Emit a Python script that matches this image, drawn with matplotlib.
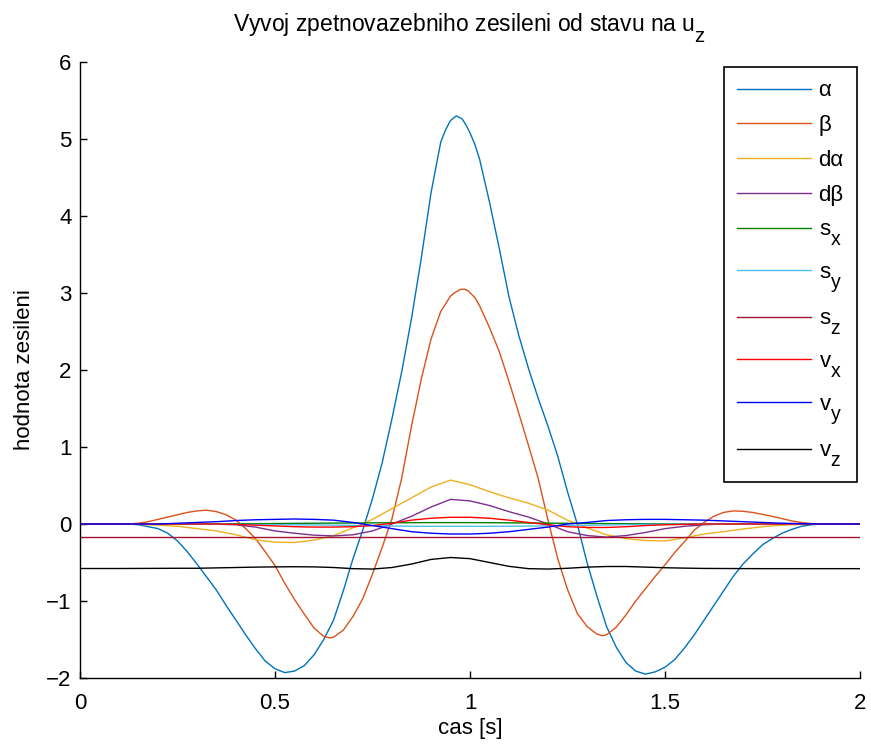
import numpy as np
import matplotlib
matplotlib.use("Agg")
import matplotlib.pyplot as plt

# MATLAB-like subscripts: larger and dropped lower than mathtext defaults
try:
    import matplotlib._mathtext as _mt
    _mt.SHRINK_FACTOR = 0.88
    _mt.FontConstantsBase.sub1 = 0.9
    _mt.FontConstantsBase.sub2 = 0.9
except Exception:
    pass

plt.rcParams['font.family'] = ['Liberation Sans', 'DejaVu Sans']
plt.rcParams['mathtext.fontset'] = 'custom'
plt.rcParams['mathtext.rm'] = 'Liberation Sans'
plt.rcParams['mathtext.it'] = 'Liberation Sans'

# ---- data ----
x_alpha = [0, 0.05, 0.1, 0.125, 0.15, 0.175, 0.2, 0.225, 0.25, 0.275, 0.3, 0.325, 0.35, 0.375,
           0.4, 0.425, 0.45, 0.475, 0.5, 0.525, 0.55, 0.575, 0.6, 0.625, 0.65, 0.675, 0.7,
           0.725, 0.75, 0.775, 0.8, 0.825, 0.85, 0.875, 0.9, 0.9125, 0.925, 0.9375, 0.95,
           0.965, 0.98, 0.99, 1.0, 1.0125, 1.025, 1.05, 1.075, 1.1, 1.125, 1.15, 1.175, 1.2,
           1.225, 1.25, 1.275, 1.3, 1.325, 1.35, 1.375, 1.4, 1.425, 1.45, 1.475, 1.5, 1.525,
           1.55, 1.575, 1.6, 1.625, 1.65, 1.675, 1.7, 1.725, 1.75, 1.775, 1.8, 1.825, 1.85,
           1.875, 1.9, 1.95, 2.0]
alpha = [0, 0, 0, 0, -0.01, -0.035, -0.06, -0.12, -0.22, -0.36, -0.52, -0.69, -0.86, -1.06,
         -1.25, -1.44, -1.62, -1.78, -1.88, -1.93, -1.91, -1.84, -1.70, -1.50, -1.25, -0.87, -0.45,
         -0.08, 0.33, 0.80, 1.37, 1.98, 2.67, 3.45, 4.30, 4.63, 4.96, 5.12, 5.24,
         5.30, 5.26, 5.18, 5.08, 4.93, 4.73, 4.18, 3.58, 2.95, 2.45, 2.02, 1.63, 1.27,
         0.88, 0.42, 0.0, -0.50, -0.93, -1.33, -1.60, -1.80, -1.91, -1.95, -1.92, -1.86, -1.76,
         -1.61, -1.44, -1.25, -1.06, -0.87, -0.68, -0.52, -0.39, -0.27, -0.19, -0.12, -0.07, -0.03,
         -0.01, 0, 0, 0]

x_beta = [0, 0.05, 0.1, 0.125, 0.15, 0.175, 0.2, 0.225, 0.25, 0.275, 0.3, 0.325, 0.35, 0.375,
          0.4, 0.425, 0.45, 0.475, 0.5, 0.525, 0.55, 0.575, 0.6, 0.625, 0.64, 0.65, 0.675,
          0.7, 0.725, 0.75, 0.775, 0.8, 0.825, 0.85, 0.875, 0.9, 0.925, 0.95, 0.9625, 0.975,
          0.985, 0.995, 1.0125, 1.025, 1.05, 1.075, 1.1, 1.125, 1.15, 1.175, 1.2, 1.225, 1.25,
          1.275, 1.3, 1.325, 1.34, 1.35, 1.375, 1.4, 1.425, 1.45, 1.475, 1.5, 1.525, 1.55,
          1.575, 1.6, 1.625, 1.65, 1.675, 1.7, 1.725, 1.75, 1.775, 1.8, 1.825, 1.85, 1.875,
          1.9, 1.95, 2.0]
beta = [0, 0, 0, 0, 0.01, 0.03, 0.06, 0.09, 0.12, 0.15, 0.17, 0.18, 0.16, 0.12,
        0.05, -0.06, -0.19, -0.36, -0.54, -0.77, -0.98, -1.17, -1.35, -1.46, -1.48, -1.47, -1.38,
        -1.20, -0.97, -0.65, -0.30, 0.07, 0.60, 1.27, 1.88, 2.40, 2.76, 2.96, 3.01, 3.045,
        3.05, 3.03, 2.94, 2.83, 2.55, 2.24, 1.85, 1.44, 1.02, 0.59, 0.05, -0.45, -0.85,
        -1.16, -1.33, -1.43, -1.45, -1.44, -1.34, -1.18, -1.00, -0.84, -0.68, -0.53, -0.37, -0.23,
        -0.08, 0.02, 0.10, 0.15, 0.17, 0.165, 0.15, 0.125, 0.10, 0.07, 0.04, 0.02, 0.005,
        0, 0, 0]

x_small = [0, 0.05, 0.1, 0.15, 0.2, 0.25, 0.3, 0.35, 0.4, 0.45, 0.5, 0.55, 0.6, 0.65, 0.7,
           0.75, 0.8, 0.85, 0.9, 0.95, 1.0, 1.05, 1.1, 1.15, 1.2, 1.25, 1.3, 1.35, 1.4, 1.45,
           1.5, 1.55, 1.6, 1.65, 1.7, 1.75, 1.8, 1.85, 1.9, 1.95, 2.0]
dalpha = [0, 0, 0, -0.005, -0.015, -0.03, -0.06, -0.09, -0.14, -0.205, -0.235, -0.24, -0.21, -0.15, -0.05,
          0.06, 0.20, 0.34, 0.48, 0.57, 0.51, 0.42, 0.34, 0.27, 0.18, 0.05, -0.05, -0.14, -0.19, -0.215,
          -0.22, -0.18, -0.13, -0.10, -0.065, -0.035, -0.015, -0.005, 0, 0, 0]
dbeta = [0, 0, 0, 0, 0, 0, 0, -0.003, -0.01, -0.04, -0.09, -0.12, -0.145, -0.155, -0.14,
         -0.09, 0.0, 0.10, 0.22, 0.32, 0.30, 0.24, 0.16, 0.09, 0.0, -0.10, -0.15, -0.17, -0.15, -0.11,
         -0.06, -0.03, -0.01, 0, 0, 0, 0, 0, 0, 0, 0]
s_x = [0, 0, 0, 0, 0, 0, 0.002, 0.003, 0.004, 0.005, 0.006, 0.008, 0.01, 0.012, 0.013,
       0.015, 0.016, 0.017, 0.018, 0.018, 0.018, 0.017, 0.015, 0.013, 0.011, 0.009, 0.007, 0.005, 0.004, 0.003,
       0.002, 0.001, 0, 0, 0, 0, 0, 0, 0, 0, 0]
s_y = [0, 0, 0, 0, 0, 0, 0, -0.002, -0.004, -0.006, -0.008, -0.01, -0.012, -0.015, -0.018,
       -0.022, -0.026, -0.029, -0.03, -0.03, -0.03, -0.03, -0.029, -0.027, -0.024, -0.02, -0.016, -0.012, -0.008, -0.005,
       -0.003, -0.002, -0.001, 0, 0, 0, 0, 0, 0, 0, 0]
s_z = [-0.165] * 41
v_x = [0, 0, 0, 0, 0, 0, 0, 0, -0.005, -0.015, -0.025, -0.035, -0.04, -0.04, -0.035,
       -0.02, 0.01, 0.05, 0.075, 0.087, 0.087, 0.075, 0.05, 0.02, -0.01, -0.035, -0.045, -0.045, -0.035, -0.02,
       -0.01, -0.005, 0, 0, 0, 0, 0, 0, 0, 0, 0]
v_y = [0, 0, 0, 0, 0, 0.01, 0.02, 0.03, 0.045, 0.055, 0.06, 0.065, 0.06, 0.05, 0.02,
       -0.02, -0.06, -0.10, -0.12, -0.13, -0.13, -0.12, -0.10, -0.07, -0.04, 0.0, 0.02, 0.045, 0.055, 0.06,
       0.06, 0.055, 0.05, 0.04, 0.03, 0.02, 0.01, 0.005, 0, 0, 0]
v_z = [-0.578, -0.578, -0.578, -0.577, -0.576, -0.575, -0.575, -0.57, -0.565, -0.56, -0.557, -0.555, -0.557, -0.565, -0.58,
       -0.585, -0.565, -0.52, -0.46, -0.435, -0.45, -0.50, -0.55, -0.58, -0.585, -0.575, -0.56, -0.552, -0.552, -0.56,
       -0.568, -0.573, -0.577, -0.578, -0.579, -0.58, -0.58, -0.58, -0.58, -0.58, -0.58]

labels = ['α', 'β', 'dα', 'dβ', r'$\mathregular{s_x}$', r'$\mathregular{s_y}$',
          r'$\mathregular{s_z}$', r'$\mathregular{v_x}$', r'$\mathregular{v_y}$', r'$\mathregular{v_z}$']
colors = ['#0072BD', '#D95319', '#EDB120', '#7E2F8E', '#008000', '#4DBEEE',
          '#A2142F', '#FF0000', '#0000FF', '#000000']

x_ticks = [0, 0.5, 1, 1.5, 2]
x_ticklabels = ['0', '0.5', '1', '1.5', '2']
y_ticks = [-2, -1, 0, 1, 2, 3, 4, 5, 6]

fig = plt.figure(figsize=(8.71, 7.45), dpi=100)
ax = fig.add_axes([80/871, 1-678/745, 780/871, 616/745])

series = [(x_alpha, alpha), (x_beta, beta), (x_small, dalpha), (x_small, dbeta),
          (x_small, s_x), (x_small, s_y), (x_small, s_z), (x_small, v_x),
          (x_small, v_y), (x_small, v_z)]
for (xs, ys), lab, c in zip(series, labels, colors):
    ax.plot(xs, ys, color=c, lw=1.0, label=lab)

ax.set_xlim(0, 2)
ax.set_ylim(-2, 6)
ax.set_xticks(x_ticks)
ax.set_xticklabels(x_ticklabels)
ax.set_yticks(y_ticks)
ax.spines['top'].set_visible(False)
ax.spines['right'].set_visible(False)
for s in ('left', 'bottom'):
    ax.spines[s].set_linewidth(1.0)
ax.tick_params(direction='in', length=5, width=1.0, labelsize=16)
ax.tick_params(axis='x', pad=11)
ax.tick_params(axis='y', pad=6)

ax.set_title(r'Vyvoj zpetnovazebniho zesileni od stavu na $\mathregular{u_z}$',
             fontsize=16.5, pad=22)
ax.set_xlabel('cas [s]', fontsize=16, labelpad=3)
ax.set_ylabel('hodnota zesileni', fontsize=16, labelpad=8)

leg = ax.legend(loc='upper right', bbox_to_anchor=(857/871, 1-67/745),
                bbox_transform=fig.transFigure, borderaxespad=0, fontsize=16,
                handlelength=3.3, labelspacing=0.62, borderpad=0.6, handletextpad=0.35,
                fancybox=False, framealpha=1, edgecolor='black')
leg.get_frame().set_linewidth(1.2)

fig.savefig('out.png', dpi=100)
